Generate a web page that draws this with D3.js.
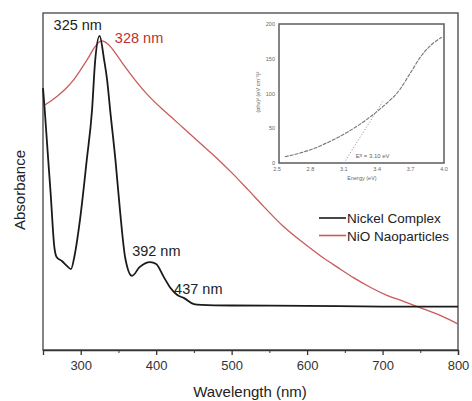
<!DOCTYPE html>
<html>
<head>
<meta charset="utf-8">
<script src="https://cdn.jsdelivr.net/npm/d3@7"></script>
<style>
  body { margin: 0; background: #fff; }
  svg { display: block; font-family: "Liberation Sans", Arial, sans-serif; }
</style>
</head>
<body>
<svg id="chart" width="472" height="401"></svg>
<script>
// wavelength (nm) -> absorbance (arbitrary units)
var complexWl = [250, 252, 256, 260, 265, 268, 275, 282, 287, 292, 299, 308, 315, 319, 325, 331, 335, 339, 346, 352, 359, 368, 378, 392, 400, 410, 419, 428, 437, 450, 460, 500, 600, 700, 800];
var complexAbs = [0.777, 0.721, 0.593, 0.469, 0.306, 0.276, 0.264, 0.249, 0.240, 0.282, 0.386, 0.564, 0.712, 0.855, 0.932, 0.861, 0.801, 0.712, 0.564, 0.415, 0.273, 0.220, 0.246, 0.261, 0.255, 0.217, 0.184, 0.163, 0.154, 0.136, 0.134, 0.132, 0.131, 0.129, 0.129];

var nioWl = [250, 260, 270, 280, 290, 300, 310, 318, 324, 328, 336, 345, 355, 369, 390, 414, 436, 458, 480, 502, 522, 542, 568, 595, 618, 640, 662, 683, 705, 727, 754, 778, 800];
var nioAbs = [0.724, 0.738, 0.755, 0.775, 0.800, 0.832, 0.867, 0.897, 0.913, 0.917, 0.908, 0.884, 0.852, 0.810, 0.754, 0.703, 0.659, 0.614, 0.570, 0.522, 0.475, 0.427, 0.368, 0.318, 0.279, 0.246, 0.214, 0.187, 0.163, 0.145, 0.122, 0.101, 0.077];

var peakLabels = [
    { wl: 325, text: "325 nm", color: "#222" },
    { wl: 328, text: "328 nm", color: "#c0302e" },
    { wl: 392, text: "392 nm", color: "#222" },
    { wl: 437, text: "437 nm", color: "#222" }
];
var xTicks = [300, 400, 500, 600, 700, 800];

// inset: Tauc plot of the NiO particles
var tauE = [2.57, 2.70, 2.85, 3.00, 3.15, 3.30, 3.45, 3.60, 3.70, 3.80, 3.90, 3.98];
var tauV = [9, 14, 22, 33, 46, 62, 81, 105, 130, 155, 172, 181];
var tauXTicks = [2.5, 2.8, 3.1, 3.4, 3.7, 4.0];
var tauYTicks = [0, 50, 100, 150, 200];
var bandGap = 3.10;
var tangentSlope = 253;

window.onload = function () {
    var svg = d3.select("#chart");

    var x = d3.scaleLinear().domain([250, 800]).range([43, 458]);
    var y = d3.scaleLinear().domain([0, 1]).range([350, 13]);

    // frame
    svg.append("rect")
        .attr("x", 43).attr("y", 13)
        .attr("width", 415).attr("height", 337)
        .attr("fill", "none").attr("stroke", "#444").attr("stroke-width", 1.3);

    // bottom axis with minor ticks
    var xAxis = svg.append("g").attr("transform", "translate(0,350)")
        .call(d3.axisBottom(x).tickValues(xTicks).tickSize(5).tickPadding(6).tickFormat(d3.format("d")));
    xAxis.select(".domain").attr("stroke", "#333").attr("stroke-width", 1.3);
    xAxis.selectAll(".tick line").attr("stroke", "#333").attr("stroke-width", 1.3);
    xAxis.selectAll("text").attr("font-size", 13).attr("fill", "#333");
    svg.append("g").attr("transform", "translate(0,350)")
        .call(d3.axisBottom(x).tickValues(d3.range(250, 800, 100)).tickSize(3).tickFormat(""))
        .call(function (g) { g.select(".domain").remove(); g.selectAll("line").attr("stroke", "#333"); });

    svg.append("text").attr("x", 250).attr("y", 397).attr("text-anchor", "middle")
        .attr("font-size", 15).attr("fill", "#222").text("Wavelength (nm)");
    svg.append("text").attr("transform", "translate(25,190) rotate(-90)").attr("text-anchor", "middle")
        .attr("font-size", 15).attr("fill", "#222").text("Absorbance");

    var line = d3.line().x(function (d) { return x(d[0]); }).y(function (d) { return y(d[1]); })
        .curve(d3.curveMonotoneX);

    svg.append("path").datum(d3.zip(nioWl, nioAbs))
        .attr("d", line).attr("fill", "none").attr("stroke", "#cc5a5a").attr("stroke-width", 1.3);
    svg.append("path").datum(d3.zip(complexWl, complexAbs))
        .attr("d", line).attr("fill", "none").attr("stroke", "#1a1a1a").attr("stroke-width", 1.8);

    // peak labels
    var offsets = { "325 nm": [-46, -6], "328 nm": [13, 2], "392 nm": [-18, -6], "437 nm": [-10, -4] };
    peakLabels.forEach(function (p) {
        var src = p.color === "#c0302e" ? [nioWl, nioAbs] : [complexWl, complexAbs];
        var i = src[0].indexOf(p.wl);
        var o = offsets[p.text];
        svg.append("text").attr("x", x(p.wl) + o[0]).attr("y", y(src[1][i]) + o[1])
            .attr("font-size", 14.5).attr("fill", p.color).text(p.text);
    });

    // legend
    var legend = [["Nickel Complex", "#1a1a1a"], ["NiO Naoparticles", "#cc5a5a"]];
    legend.forEach(function (l, i) {
        var ly = 218 + i * 17.5;
        svg.append("line").attr("x1", 319).attr("x2", 346).attr("y1", ly).attr("y2", ly)
            .attr("stroke", l[1]).attr("stroke-width", 1.6);
        svg.append("text").attr("x", 347).attr("y", ly + 5).attr("font-size", 13.5)
            .attr("fill", "#222").text(l[0]);
    });

    // inset
    var ix = d3.scaleLinear().domain([2.5, 4.0]).range([277, 444]);
    var iy = d3.scaleLinear().domain([0, 200]).range([163, 24]);
    var inset = svg.append("g").attr("fill", "#666").attr("font-size", 5.5);

    inset.append("rect").attr("x", 279).attr("y", 24).attr("width", 165).attr("height", 139)
        .attr("fill", "none").attr("stroke", "#666").attr("stroke-width", 1.6);
    tauXTicks.forEach(function (t) {
        inset.append("text").attr("x", ix(t)).attr("y", 171).attr("text-anchor", "middle").text(t.toFixed(1));
    });
    tauYTicks.forEach(function (t) {
        inset.append("text").attr("x", 275).attr("y", iy(t) + 2).attr("text-anchor", "end").text(t);
    });
    inset.append("text").attr("x", 362).attr("y", 180).attr("text-anchor", "middle").text("Energy (eV)");
    inset.append("text").attr("transform", "translate(260,92) rotate(-90)").attr("text-anchor", "middle")
        .text("(\u03b1h\u03bd)\u00b2 (eV cm\u207b\u00b9)\u00b2");

    var tauLine = d3.line().x(function (d) { return ix(d[0]); }).y(function (d) { return iy(d[1]); })
        .curve(d3.curveMonotoneX);
    inset.append("path").datum(d3.zip(tauE, tauV)).attr("d", tauLine)
        .attr("fill", "none").attr("stroke", "#777").attr("stroke-width", 1.1).attr("stroke-dasharray", "4,1");
    inset.append("path").datum([[bandGap, 0], [3.45, tangentSlope * (3.45 - bandGap)]]).attr("d", tauLine)
        .attr("fill", "none").attr("stroke", "#888").attr("stroke-width", 1).attr("stroke-dasharray", "1,2");
    inset.append("text").attr("x", ix(bandGap) + 12).attr("y", 158).attr("font-size", 6).text("E\u1d4d = 3.10 eV");
};
</script>
</body>
</html>
